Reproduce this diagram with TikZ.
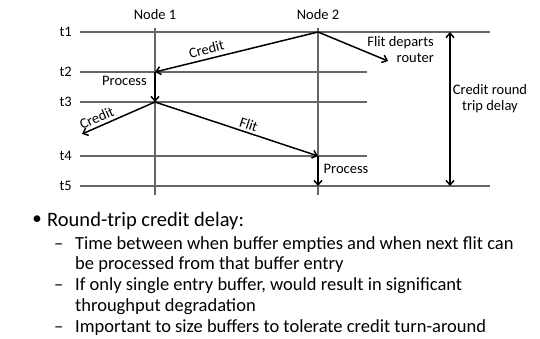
\documentclass[tikz,border=0pt]{standalone}
\usepackage{fontspec}
\setmainfont{Carlito}
\usetikzlibrary{arrows.meta,positioning}
\tikzset{
    timeline/.style={
        draw=black!60,
        line width=1.1pt % 时间线
    },
    msgarrow/.style={
        draw=black,
        line width=1.5pt,
        -{Straight Barb[length=4.5pt,width=8pt]}
    },
    lbl/.style={
        inner sep=1pt,
        font=\fontsize{14.5}{16}\selectfont
    },
    itemtext/.style={
        inner sep=0,
        anchor=base west,
        font=\fontsize{18.5}{20.5}\selectfont
    }
}
\begin{document}
\begin{tikzpicture}[x=1pt,y=-1pt]
    \useasboundingbox (0,0) rectangle (540,339);
    % 时间点
    \coordinate (n1top) at (155,28);
    \coordinate (n1bot) at (155,195);
    \coordinate (n2top) at (318,28);
    \coordinate (n2bot) at (318,195);
    \coordinate (n1t2) at (155,72);
    \coordinate (n1t3) at (155,102);
    \coordinate (n2t1) at (318,32);
    \coordinate (n2t4) at (318,156);
    \coordinate (n2t5) at (318,186);
    \coordinate (creditend) at (82,134);
    \coordinate (flitend) at (388,61);
    \coordinate (rtttop) at (450,32);
    \coordinate (rttbot) at (450,186);
    % 标签
    \node[lbl] (node1) at (155,15) {Node 1};
    \node[lbl] (node2) at (318,15) {Node 2};
    \node[lbl, anchor=east] (t1) at (73,32) {t1};
    \node[lbl, anchor=east] (t2) at (73,72) {t2};
    \node[lbl, anchor=east] (t3) at (73,102) {t3};
    \node[lbl, anchor=east] (t4) at (73,156) {t4};
    \node[lbl, anchor=east] (t5) at (73,186) {t5};
    % 水平线
    \draw[timeline] (t1.east) ++(7,0) -- (490,32);
    \draw[timeline] (t2.east) ++(7,0) -- (367,72);
    \draw[timeline] (t3.east) ++(7,0) -- (367,102);
    \draw[timeline] (t4.east) ++(7,0) -- (367,156);
    \draw[timeline] (t5.east) ++(7,0) -- (490,186);
    % 竖线
    \draw[timeline] (n1top) -- (n1bot);
    \draw[timeline] (n2top) -- (n2bot);
    % 消息
    \draw[msgarrow] (n2t1) -- node[lbl, pos=0.67, above=3pt, sloped] (credit1) {Credit} (n1t2);
    \draw[msgarrow] (n1t2) -- (n1t3);
    \node[lbl] (proc1) at (124.5,81) {Process};
    \draw[msgarrow] (n1t3) -- node[lbl, pos=0.75, above=2pt, sloped] (credit2) {Credit} (creditend);
    \draw[msgarrow] (n1t3) -- node[lbl, pos=0.56, above=1pt, sloped] (flit) {Flit} (n2t4);
    \draw[msgarrow] (n2t4) -- (n2t5);
    \node[lbl] (proc2) at (346,169) {Process};
    \draw[msgarrow] (n2t1) -- (flitend);
    \node[lbl, align=right, anchor=east] (departs) at (435,50) {Flit departs\\router};
    \draw[msgarrow, {Straight Barb[length=4.5pt,width=8pt]}-{Straight Barb[length=4.5pt,width=8pt]}] (rtttop) -- (rttbot);
    \node[lbl, align=center] (rtt) at (490,99) {Credit round\\trip delay};
    % 文字说明
    \node[inner sep=0, font=\fontsize{19}{21}\selectfont] (bullet) at (37,220) {•};
    \node[itemtext, font=\fontsize{20.5}{23}\selectfont] (item0) at (47,226) {Round-trip credit delay:};
    \node[itemtext] (dash1) at (54,249) {–};
    \node[itemtext] (item1a) at (75,249) {Time between when buffer empties and when next flit can};
    \node[itemtext] (item1b) at (75,269.5) {be processed from that buffer entry};
    \node[itemtext] (dash2) at (54,290.5) {–};
    \node[itemtext] (item2a) at (75,290.5) {If only single entry buffer, would result in significant};
    \node[itemtext] (item2b) at (75,311) {throughput degradation};
    \node[itemtext] (dash3) at (54,332) {–};
    \node[itemtext] (item3) at (75,332) {Important to size buffers to tolerate credit turn-around};
\end{tikzpicture}
\end{document}
